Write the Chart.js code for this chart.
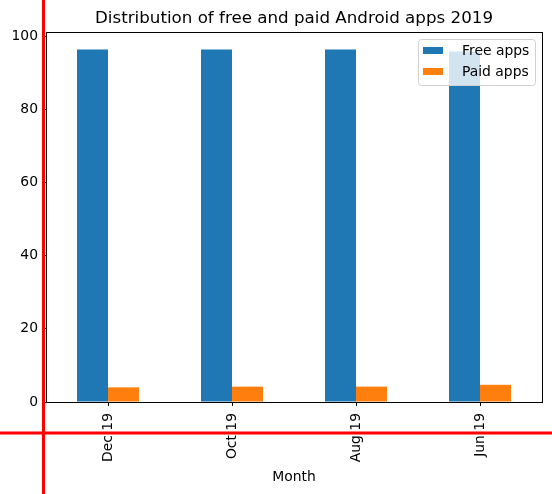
<!DOCTYPE html>
<html>
<head>
<meta charset="utf-8">
<script src="https://cdn.jsdelivr.net/npm/chart.js@4"></script>
<style>
  html, body { margin: 0; padding: 0; background: #fff; }
  #wrap { width: 552px; height: 494px; }
</style>
</head>
<body>
<div id="wrap"><canvas id="myChart" width="552" height="494"></canvas></div>
<script>
'use strict';

var months = ['Dec 19', 'Oct 19', 'Aug 19', 'Jun 19'];
var freeApps = [96.3, 96.3, 96.3, 95.8];
var paidApps = [4.0, 4.2, 4.2, 4.7];
var yTicks = [0, 20, 40, 60, 80, 100];

var chartTitle = 'Distribution of free and paid Android apps 2019';
var font = 'DejaVu Sans';

// frame, title, legend box and the red guide lines
var extras = {
  id: 'extras',
  afterDraw: function(chart) {
    var ctx = chart.ctx;
    var a = chart.chartArea;
    ctx.save();

    ctx.strokeStyle = '#000';
    ctx.lineWidth = 1;
    ctx.strokeRect(a.left + 0.5, a.top + 0.5, a.right - a.left, a.bottom - a.top);

    ctx.fillStyle = '#000';
    ctx.font = '16.7px "' + font + '"';
    ctx.textAlign = 'center';
    ctx.textBaseline = 'middle';
    ctx.fillText(chartTitle, (a.left + a.right) / 2, 19);

    // legend
    var lx = a.right - 124, ly = a.top + 7, lw = 117, lh = 46;
    ctx.fillStyle = 'rgba(255,255,255,0.8)';
    ctx.strokeStyle = '#d0d0d0';
    ctx.beginPath();
    ctx.roundRect(lx + 0.5, ly + 0.5, lw, lh, 3);
    ctx.fill();
    ctx.stroke();
    ctx.font = '13.9px "' + font + '"';
    ctx.textAlign = 'left';
    chart.data.datasets.forEach(function(ds, i) {
      var yy = ly + 12 + i * 21;
      ctx.fillStyle = ds.backgroundColor;
      ctx.fillRect(lx + 5, yy - 4, 20, 7);
      ctx.fillStyle = '#000';
      ctx.fillText(ds.label, lx + 44, yy);
    });

    // red guide lines over everything
    ctx.strokeStyle = '#ff0000';
    ctx.lineWidth = 3;
    ctx.beginPath();
    ctx.moveTo(43.5, 0);
    ctx.lineTo(43.5, chart.height);
    ctx.moveTo(0, 433);
    ctx.lineTo(chart.width, 433);
    ctx.stroke();
    ctx.restore();
  }
};

var ctx = document.getElementById('myChart');

var myChart = new Chart(ctx, {
  type: 'bar',
  data: {
    labels: months,
    datasets: [{
      label: 'Free apps',
      data: freeApps,
      backgroundColor: '#1f77b4',
      categoryPercentage: 0.5,
      barPercentage: 1.0
    }, {
      label: 'Paid apps',
      data: paidApps,
      backgroundColor: '#ff7f0e',
      categoryPercentage: 0.5,
      barPercentage: 1.0
    }]
  },
  options: {
    responsive: false,
    animation: false,
    layout: { padding: { top: 32, right: 10, left: 0, bottom: 0 } },
    plugins: {
      legend: { display: false },
      title: { display: false },
      tooltip: { enabled: false }
    },
    scales: {
      x: {
        grid: { display: true, offset: false, drawOnChartArea: false, drawTicks: true, tickLength: 4, color: '#000' },
        border: { display: true, color: '#000' },
        ticks: {
          color: '#000',
          font: { family: font, size: 13.9 },
          minRotation: 90,
          maxRotation: 90,
          padding: 7
        },
        title: {
          display: true,
          text: 'Month',
          color: '#000',
          font: { family: font, size: 13.9 },
          padding: { top: 2, bottom: 8 }
        },
        afterFit: function(scale) { scale.height = 92; }
      },
      y: {
        min: 0,
        max: 101.1,
        grid: { display: true, drawOnChartArea: false, drawTicks: true, tickLength: 4, color: '#000' },
        border: { display: true, color: '#000' },
        ticks: {
          color: '#000',
          font: { family: font, size: 13.9 },
          padding: 4,
          stepSize: 20
        },
        afterBuildTicks: function(scale) {
          scale.ticks = yTicks.map(function(v) { return { value: v }; });
        },
        afterFit: function(scale) { scale.width = 46; }
      }
    }
  },
  plugins: [extras]
});
</script>
</body>
</html>
